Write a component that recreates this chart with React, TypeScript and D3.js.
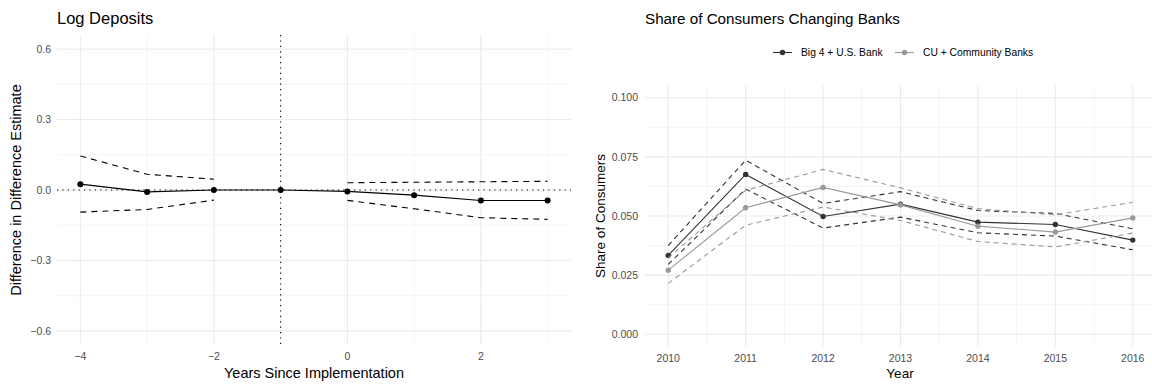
import React from 'react';
import * as d3 from 'd3';

// Left panel: event study on log deposits
const eventYears = [-4, -3, -2, -1, 0, 1, 2, 3];
const estimate = [0.025, -0.008, 0.0, 0.0, -0.006, -0.022, -0.045, -0.045];
const upperCI: (number | null)[] = [0.145, 0.067, 0.046, null, 0.031, 0.033, 0.035, 0.037];
const lowerCI: (number | null)[] = [-0.094, -0.083, -0.043, null, -0.044, -0.08, -0.118, -0.125];
const leftXTicks = [-4, -2, 0, 2];
const leftXMinor = [-3, -1, 1, 3];
const leftYTicks = [-0.6, -0.3, 0, 0.3, 0.6];
const leftYMinor = [-0.45, -0.15, 0.15, 0.45];

// Right panel: share of consumers changing banks
const years = [2010, 2011, 2012, 2013, 2014, 2015, 2016];
const big4 = [0.0333, 0.0676, 0.0498, 0.055, 0.0474, 0.0464, 0.0398];
const big4Upper = [0.0375, 0.0736, 0.0553, 0.0603, 0.0523, 0.0511, 0.0446];
const big4Lower = [0.0295, 0.0614, 0.0449, 0.0495, 0.0429, 0.0415, 0.0357];
const cu = [0.0271, 0.0535, 0.0621, 0.0547, 0.0457, 0.0432, 0.0492];
const cuUpper = [0.0322, 0.0609, 0.0697, 0.0619, 0.0531, 0.0505, 0.0558];
const cuLower = [0.0215, 0.0461, 0.0538, 0.0481, 0.0392, 0.0369, 0.0428];
const rightYTicks = [0, 0.025, 0.05, 0.075, 0.1];
const rightYMinor = [0.0125, 0.0375, 0.0625, 0.0875];
const rightXMinor = [2010.5, 2011.5, 2012.5, 2013.5, 2014.5, 2015.5];
const seriesNames = ['Big 4 + U.S. Bank', 'CU + Community Banks'];
const seriesColors = ['#333333', '#999999'];

const FONT = '"Liberation Sans", Arial, Helvetica, sans-serif';
const GRID = '#EBEBEB';
const TICK = '#4D4D4D';

const fmtMinus = (v: number, digits: number) => {
  const s = v.toFixed(digits);
  return s.replace('-', '\u2212');
};

const App: React.FC = () => {
  // left scales
  const lx = d3.scaleLinear().domain([-4.35, 3.35]).range([57, 571]);
  const ly = d3.scaleLinear().domain([-0.66, 0.66]).range([345, 35]);
  const lineL = d3
    .line<[number, number | null]>()
    .defined((d) => d[1] != null)
    .x((d) => lx(d[0]))
    .y((d) => ly(d[1] as number));
  const zip = (xs: number[], ys: (number | null)[]) =>
    xs.map((x, i) => [x, ys[i]] as [number, number | null]);

  // right scales
  const rx = d3.scaleLinear().domain([2009.7, 2016.3]).range([645, 1156]);
  const ry = d3.scaleLinear().domain([-0.005, 0.105]).range([346, 86]);
  const lineR = d3
    .line<[number, number]>()
    .x((d) => rx(d[0]))
    .y((d) => ry(d[1]));
  const zipR = (ys: number[]) => years.map((x, i) => [x, ys[i]] as [number, number]);

  const rightSeries = [
    { name: seriesNames[0], color: seriesColors[0], est: big4, up: big4Upper, lo: big4Lower },
    { name: seriesNames[1], color: seriesColors[1], est: cu, up: cuUpper, lo: cuLower },
  ];

  return (
    <svg
      width={1152}
      height={384}
      style={{ position: 'absolute', left: 0, top: 0, background: '#fff' }}
      fontFamily={FONT}
    >
      {/* ---------- left panel ---------- */}
      <g>
        {leftYMinor.map((t) => (
          <line key={'lym' + t} x1={57} x2={571} y1={ly(t)} y2={ly(t)} stroke={GRID} strokeWidth={0.55} />
        ))}
        {leftXMinor.map((t) => (
          <line key={'lxm' + t} x1={lx(t)} x2={lx(t)} y1={35} y2={345} stroke={GRID} strokeWidth={0.55} />
        ))}
        {leftYTicks.map((t) => (
          <line key={'ly' + t} x1={57} x2={571} y1={ly(t)} y2={ly(t)} stroke={GRID} strokeWidth={1.1} />
        ))}
        {leftXTicks.map((t) => (
          <line key={'lx' + t} x1={lx(t)} x2={lx(t)} y1={35} y2={345} stroke={GRID} strokeWidth={1.1} />
        ))}

        {/* reference lines */}
        <line x1={57} x2={571} y1={ly(0)} y2={ly(0)} stroke="#000" strokeWidth={1.1} strokeDasharray="1.2,4.2" />
        <line x1={lx(-1)} x2={lx(-1)} y1={35} y2={345} stroke="#000" strokeWidth={1.1} strokeDasharray="1.2,4.2" />

        <path d={lineL(zip(eventYears, upperCI)) || ''} fill="none" stroke="#000" strokeWidth={1.1} strokeDasharray="6,5" />
        <path d={lineL(zip(eventYears, lowerCI)) || ''} fill="none" stroke="#000" strokeWidth={1.1} strokeDasharray="6,5" />
        <path d={lineL(zip(eventYears, estimate)) || ''} fill="none" stroke="#000" strokeWidth={1.1} />
        {eventYears.map((x, i) => (
          <circle key={'lp' + x} cx={lx(x)} cy={ly(estimate[i])} r={3} fill="#000" />
        ))}

        {leftYTicks.map((t) => (
          <text key={'lyt' + t} x={51} y={ly(t)} dy="0.35em" textAnchor="end" fontSize={10.5} fill={TICK}>
            {fmtMinus(t, 1)}
          </text>
        ))}
        {leftXTicks.map((t) => (
          <text key={'lxt' + t} x={lx(t)} y={360} textAnchor="middle" fontSize={10.5} fill={TICK}>
            {fmtMinus(t, 0)}
          </text>
        ))}
        <text x={314} y={378} textAnchor="middle" fontSize={14.5} fill="#000">
          Years Since Implementation
        </text>
        <text transform={`translate(21,190) rotate(-90)`} textAnchor="middle" fontSize={14.5} fill="#000">
          Difference in Difference Estimate
        </text>
        <text x={57} y={24} fontSize={16.5} fill="#000">
          Log Deposits
        </text>
      </g>

      {/* ---------- right panel ---------- */}
      <g>
        {rightYMinor.map((t) => (
          <line key={'rym' + t} x1={645} x2={1156} y1={ry(t)} y2={ry(t)} stroke={GRID} strokeWidth={0.55} />
        ))}
        {rightXMinor.map((t) => (
          <line key={'rxm' + t} x1={rx(t)} x2={rx(t)} y1={86} y2={346} stroke={GRID} strokeWidth={0.55} />
        ))}
        {rightYTicks.map((t) => (
          <line key={'ry' + t} x1={645} x2={1156} y1={ry(t)} y2={ry(t)} stroke={GRID} strokeWidth={1.1} />
        ))}
        {years.map((t) => (
          <line key={'rx' + t} x1={rx(t)} x2={rx(t)} y1={86} y2={346} stroke={GRID} strokeWidth={1.1} />
        ))}

        {rightSeries.map((s) => (
          <g key={s.name}>
            <path d={lineR(zipR(s.up)) || ''} fill="none" stroke={s.color} strokeWidth={1.1} strokeDasharray="5,4" />
            <path d={lineR(zipR(s.lo)) || ''} fill="none" stroke={s.color} strokeWidth={1.1} strokeDasharray="5,4" />
            <path d={lineR(zipR(s.est)) || ''} fill="none" stroke={s.color} strokeWidth={1.1} />
            {years.map((x, i) => (
              <circle key={x} cx={rx(x)} cy={ry(s.est[i])} r={2.7} fill={s.color} />
            ))}
          </g>
        ))}

        {rightYTicks.map((t) => (
          <text key={'ryt' + t} x={638} y={ry(t)} dy="0.35em" textAnchor="end" fontSize={10.5} fill={TICK}>
            {t.toFixed(3)}
          </text>
        ))}
        {years.map((t) => (
          <text key={'rxt' + t} x={rx(t)} y={362} textAnchor="middle" fontSize={10.5} fill={TICK}>
            {t}
          </text>
        ))}
        <text x={900} y={378} textAnchor="middle" fontSize={13.5} fill="#000">
          Year
        </text>
        <text transform={`translate(605,216) rotate(-90)`} textAnchor="middle" fontSize={13.5} fill="#000">
          Share of Consumers
        </text>
        <text x={645} y={24} fontSize={15.2} fill="#000">
          Share of Consumers Changing Banks
        </text>

        {/* legend */}
        {rightSeries.map((s, i) => {
          const x0 = i === 0 ? 773 : 895;
          return (
            <g key={'lg' + s.name}>
              <line x1={x0} x2={x0 + 19} y1={52.5} y2={52.5} stroke={s.color} strokeWidth={1.1} />
              <circle cx={x0 + 9.5} cy={52.5} r={2.7} fill={s.color} />
              <text x={x0 + 28} y={52.5} dy="0.35em" fontSize={10.3} fill="#000">
                {s.name}
              </text>
            </g>
          );
        })}
      </g>
    </svg>
  );
};

export default App;
